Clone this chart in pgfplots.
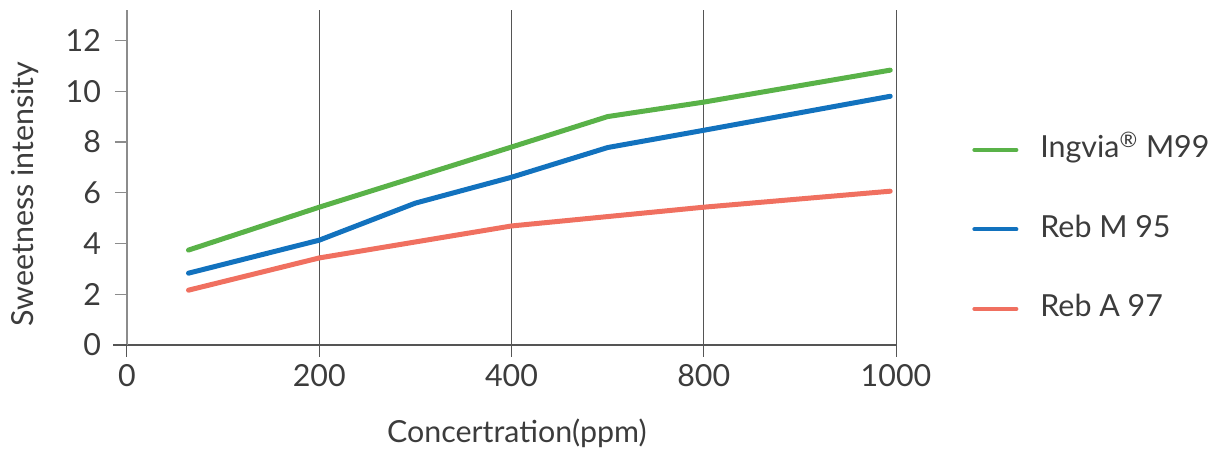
\documentclass[border=0pt]{standalone}
\usepackage{fontspec}
\setmainfont{Lato}
\usepackage{pgfplots}
\pgfplotsset{compat=1.18}
\definecolor{cgreen}{RGB}{89,178,72}
\definecolor{cblue}{RGB}{18,114,190}
\definecolor{cred}{RGB}{240,112,96}
\definecolor{txt}{RGB}{60,60,60}
\definecolor{gridc}{RGB}{85,85,85}
\definecolor{yax}{RGB}{140,140,140}
\newcommand{\ff}{\fontsize{15.2}{18}\selectfont}
\begin{document}
\begin{tikzpicture}
\begin{axis}[
  at={(0,0)}, anchor=south west,
  scale only axis, width=384.5pt, height=167.5pt,
  xmin=0, xmax=4, ymin=0, ymax=13.2,
  clip=false,
  axis x line=bottom, axis y line=left, axis line style={-},
  x axis line style={draw=gridc, line width=0.6pt},
  y axis line style={draw=yax, line width=0.7pt},
  xtick={0,1,2,3,4}, xticklabels={0,200,400,800,1000},
  ytick={0,2,4,6,8,10,12},
  tick align=outside, major tick length=6pt,
  xtick style={draw=gridc, line width=0.5pt},
  ytick style={draw=yax, line width=0.6pt},
  xmajorgrids, major grid style={draw=gridc, line width=0.5pt},
  tick label style={font=\ff, text=txt},
  yticklabel style={xshift=-3.5pt},
  /pgf/number format/assume math mode=true,
  label style={font=\ff, text=txt},
  xlabel={Concertration(ppm)}, ylabel={Sweetness intensity},
  xlabel style={at={(axis description cs:0.507,-0.263)}, anchor=center},
  ylabel style={at={(axis description cs:-0.1326,0.45)}, anchor=center},
  legend style={at={(rel axis cs:1.0988,0.345)}, anchor=west, draw=none, fill=none,
    font=\ff, text=txt, inner sep=0pt, row sep=25.75pt,
    nodes={inner sep=0pt, text height=11pt, text depth=3pt},
    /tikz/every odd column/.append style={column sep=11pt}},
  legend cell align=left,
  legend image code/.code={\draw[#1, line width=2pt, line cap=round] (1pt,0pt) -- (22pt,0pt);},
]
\addplot[cgreen, line width=2.5pt, line cap=round, line join=round] coordinates {
(0.32,3.74) (1,5.43) (2,7.8) (2.5,9.0) (3,9.57) (3.97,10.83)};
\addlegendentry{Ingvia\textsuperscript{\textregistered} M99}
\addplot[cblue, line width=2.5pt, line cap=round, line join=round] coordinates {
(0.32,2.83) (1,4.13) (1.5,5.59) (2,6.61) (2.5,7.78) (3,8.46) (3.97,9.8)};
\addlegendentry{Reb M 95}
\addplot[cred, line width=2.5pt, line cap=round, line join=round] coordinates {
(0.32,2.16) (1,3.43) (2,4.69) (3,5.43) (3.97,6.06)};
\addlegendentry{Reb A 97}
\draw[gridc, line width=0.6pt] (rel axis cs:0,0) -- ++(-7pt,0pt);
\path (rel axis cs:0,0) ++(-63.5pt,-52.5pt) rectangle ++(607.5pt,225pt);
\end{axis}
\end{tikzpicture}
\end{document}
